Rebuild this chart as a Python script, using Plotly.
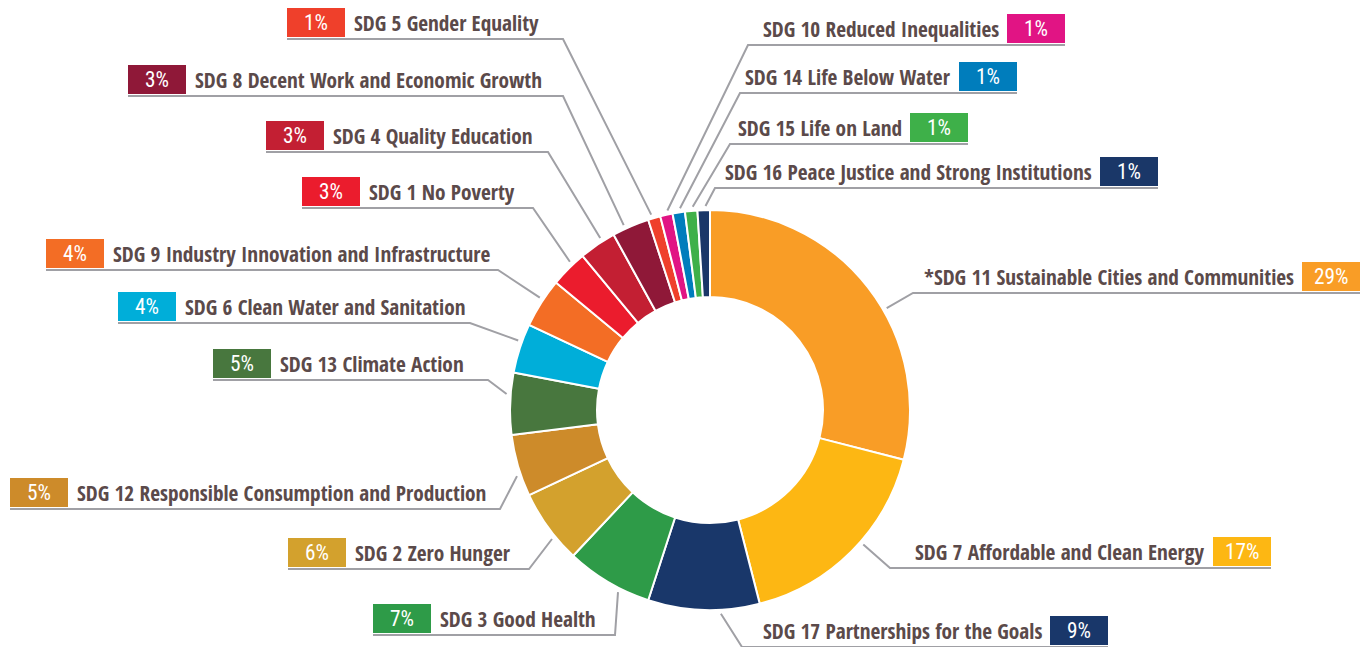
import math
import plotly.graph_objects as go

# ---------------- data ----------------
goals = [
    "*SDG 11 Sustainable Cities and Communities",
    "SDG 7 Affordable and Clean Energy",
    "SDG 17 Partnerships for the Goals",
    "SDG 3 Good Health",
    "SDG 2 Zero Hunger",
    "SDG 12 Responsible Consumption and Production",
    "SDG 13 Climate Action",
    "SDG 6 Clean Water and Sanitation",
    "SDG 9 Industry Innovation and Infrastructure",
    "SDG 1 No Poverty",
    "SDG 4 Quality Education",
    "SDG 8 Decent Work and Economic Growth",
    "SDG 5 Gender Equality",
    "SDG 10 Reduced Inequalities",
    "SDG 14 Life Below Water",
    "SDG 15 Life on Land",
    "SDG 16 Peace Justice and Strong Institutions",
]
shares = [29, 17, 9, 7, 6, 5, 5, 4, 4, 3, 3, 3, 1, 1, 1, 1, 1]
pct_labels = [f"{v}%" for v in shares]

# ---------------- styles ----------------
colors = [
    "#F99D26", "#FDB713", "#19376A", "#2E9B48", "#D3A12D", "#CD8B2A",
    "#48773E", "#00AED9", "#F36D25", "#EB1C2D", "#C31F33", "#8F1838",
    "#EF402B", "#E11484", "#007DBC", "#3EB049", "#1A3768",
]

W, H = 1367, 647
CX, CY, R = 710, 410, 200
HOLE = 0.565
BOX_W, BOX_H = 58, 29
TEXT_COLOR = "#5B4A4A"
LINE_COLOR = "#A0A0A5"
FONT = "Open Sans Condensed, Roboto Condensed, sans-serif"
PCT_FONT = "Roboto Condensed, Open Sans Condensed, sans-serif"
FSIZE = 21.3

# label layout: side, box left x, box top y, far end of underline (toward pie)
label_layout = [
    ("R", 1302, 262, 913),
    ("R", 1213, 537, 890),
    ("R", 1050, 616, 742),
    ("L", 373, 604, 615),
    ("L", 288, 538, 529),
    ("L", 10, 478, 500),
    ("L", 213, 349, 488),
    ("L", 118, 292, 470),
    ("L", 46, 239, 498),
    ("L", 302, 177, 533),
    ("L", 266, 121, 548),
    ("L", 128, 65, 563),
    ("L", 287, 8, 563),
    ("R", 1007, 14, 748),
    ("R", 959, 62, 740),
    ("R", 910, 113, 730),
    ("R", 1100, 157, 715),
]

fig = go.Figure()

fig.add_trace(go.Pie(
    labels=goals,
    values=shares,
    sort=False,
    direction="clockwise",
    rotation=0,
    hole=HOLE,
    textinfo="none",
    marker=dict(colors=colors, line=dict(color="white", width=2)),
    domain=dict(x=[(CX - R) / W, (CX + R) / W], y=[(H - CY - R) / H, (H - CY + R) / H]),
    showlegend=False,
))

# invisible pixel-space axes for the callouts
fig.add_trace(go.Scatter(x=[0, W], y=[0, H], mode="markers", marker=dict(opacity=0),
                         hoverinfo="skip", showlegend=False))

total = sum(shares)
shapes = []
annotations = []
cum = 0.0
for i, v in enumerate(shares):
    start = 360.0 * cum / total
    span = 360.0 * v / total
    mid = start + span / 2
    cum += v

    side, bx, by, lx = label_layout[i]
    ly = by + BOX_H + 2
    # leader end on the slice rim, leaning toward the label
    th_label = math.degrees(math.atan2(lx - CX, -(ly - CY))) % 360
    d = ((th_label - mid + 180) % 360) - 180
    lim = 0.15 * span
    d = max(-lim, min(lim, d))
    th = math.radians(mid + d)
    ex = CX + (R + 4) * math.sin(th)
    ey = CY - (R + 4) * math.cos(th)

    if side == "L":
        x_far = bx
        tx, tanchor = bx + BOX_W + 7, "left"
    else:
        x_far = bx + BOX_W
        tx, tanchor = bx - 6, "right"
    path = f"M {x_far},{ly} L {lx},{ly} L {ex:.1f},{ey:.1f}"

    shapes.append(dict(type="path", xref="x", yref="y", path=path,
                       line=dict(color=LINE_COLOR, width=2), layer="below"))
    shapes.append(dict(type="rect", xref="x", yref="y", x0=bx, x1=bx + BOX_W,
                       y0=by, y1=by + BOX_H, fillcolor=colors[i], line=dict(width=0)))
    annotations.append(dict(x=bx + BOX_W / 2, y=by + BOX_H / 2, xref="x", yref="y",
                            text=pct_labels[i], showarrow=False, xanchor="center", yanchor="middle",
                            font=dict(family=PCT_FONT, size=FSIZE, color="white", weight="normal")))
    annotations.append(dict(x=tx, y=by + BOX_H / 2, xref="x", yref="y",
                            text=goals[i], showarrow=False, xanchor=tanchor, yanchor="middle",
                            font=dict(family=FONT, size=FSIZE, color=TEXT_COLOR, weight="bold")))

fig.update_layout(
    width=W, height=H,
    margin=dict(l=0, r=0, t=0, b=0),
    paper_bgcolor="white", plot_bgcolor="rgba(0,0,0,0)",
    xaxis=dict(range=[0, W], visible=False, fixedrange=True, domain=[0, 1]),
    yaxis=dict(range=[H, 0], visible=False, fixedrange=True, domain=[0, 1]),
    shapes=shapes,
    annotations=annotations,
)

fig.write_html("out.html", config={"displayModeBar": False},
               post_script="document.body.style.margin='0';document.body.style.overflow='hidden';")
